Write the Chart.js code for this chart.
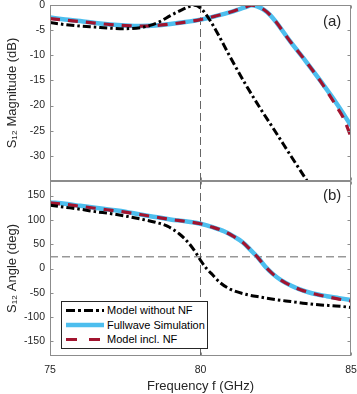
<!DOCTYPE html>
<html>
<head>
<meta charset="utf-8">
<script src="https://cdn.jsdelivr.net/npm/chart.js@4.4.1/dist/chart.umd.min.js"></script>
<style>
  html, body { margin: 0; padding: 0; background: #fff; }
  #wrap { position: relative; width: 357px; height: 394px; overflow: hidden; font-family: "Liberation Sans", Arial, sans-serif; }
  canvas { position: absolute; left: 0; }
  #c1 { top: 0; }
  #c2 { top: 176px; }
  .tag { position: absolute; font-size: 15px; color: #262626; }
  #legend { position: absolute; left: 61px; top: 301px; width: 145px; height: 46px; border: 1px solid #262626; background: #fff; }
  #legend svg { position: absolute; left: 0; top: 0; }
  #legend .lt { position: absolute; left: 45px; font-size: 11px; color: #000; line-height: 12px; white-space: nowrap; }
</style>
</head>
<body>
<div id="wrap">
  <canvas id="c1" width="357" height="182"></canvas>
  <canvas id="c2" width="357" height="218"></canvas>
  <div class="tag" style="left:323px; top:12px;">(a)</div>
  <div class="tag" style="left:323px; top:186px;">(b)</div>
  <div id="legend">
    <svg width="145" height="46">
      <line x1="4" y1="8.5" x2="42" y2="8.5" stroke="#000" stroke-width="3" stroke-dasharray="9 3 3 3"/>
      <line x1="4" y1="23" x2="42" y2="23" stroke="#4DBEEE" stroke-width="4.5"/>
      <line x1="4" y1="37.5" x2="42" y2="37.5" stroke="#A2142F" stroke-width="3.2" stroke-dasharray="11 12"/>
    </svg>
    <div class="lt" style="top:2px;">Model without NF</div>
    <div class="lt" style="top:17px;">Fullwave Simulation</div>
    <div class="lt" style="top:31px;">Model incl. NF</div>
  </div>
</div>
<script>
// ---------- data ----------
// Panel (a): S12 magnitude (dB)
const blackMagF = [75, 75.5, 76, 76.5, 77, 77.5, 78, 78.3, 78.65, 79, 79.3, 79.55, 79.8, 80, 80.2, 80.5, 81, 81.5, 82, 82.5, 83, 83.5, 83.7];
const blackMag  = [-3.5, -3.9, -4.2, -4.4, -4.6, -4.7, -4.5, -4.1, -3.3, -2.1, -1.2, -0.5, -0.05, -0.6, -2.0, -4.9, -10.5, -15.8, -20.7, -25.3, -30.0, -34.6, -36.5];

const blueMagF = [75, 75.5, 76, 76.5, 77, 77.5, 78, 78.5, 79, 79.5, 80, 80.5, 81, 81.3, 81.5, 81.7, 81.9, 82.1, 82.3, 82.5, 83, 83.5, 84, 84.5, 85];
const blueMag  = [-2.5, -2.9, -3.2, -3.6, -3.9, -4.1, -4.2, -4.1, -3.8, -3.4, -2.9, -2.2, -1.4, -0.8, -0.4, -0.05, -0.3, -0.9, -1.9, -3.3, -7.4, -11.2, -15.2, -19.4, -24.0];

const redMagF = [75, 75.5, 76, 76.5, 77, 77.5, 78, 78.5, 79, 79.5, 80, 80.5, 81, 81.3, 81.5, 81.7, 81.9, 82.1, 82.3, 82.5, 83, 83.5, 84, 84.5, 84.75, 85];
const redMag  = [-2.7, -3.0, -3.3, -3.6, -3.9, -4.1, -4.2, -4.1, -3.8, -3.4, -2.9, -2.2, -1.4, -0.8, -0.4, -0.05, -0.3, -0.9, -1.9, -3.3, -7.4, -11.2, -15.3, -20.0, -22.5, -26.2];

// Panel (b): S12 angle (deg)
const blackAngF = [75, 75.5, 76, 76.5, 77, 77.5, 78, 78.5, 78.9, 79.3, 79.6, 79.85, 80, 80.2, 80.4, 80.65, 81, 81.5, 82, 82.5, 83, 83.5, 84, 84.5, 85];
const blackAng  = [130, 126, 122, 117, 113, 108, 102, 95, 87, 71, 53, 32, 17, 0, -13, -29, -43, -53, -59, -64, -68, -72, -75, -77, -80];

const blueAngF = [75, 75.5, 76, 76.5, 77, 77.5, 78, 78.5, 79, 79.5, 80, 80.4, 80.8, 81.1, 81.4, 81.65, 81.9, 82.15, 82.4, 82.7, 83, 83.3, 83.7, 84.2, 84.6, 85];
const blueAng  = [136, 133, 129, 125, 121, 117, 111, 106, 101, 97, 92, 85, 76, 66, 54, 39, 23, 4, -11, -25, -35, -43, -51, -57, -61, -65];

const redAngF = [75, 75.5, 76, 76.5, 77, 77.5, 78, 78.5, 79, 79.5, 80, 80.4, 80.8, 81.1, 81.4, 81.65, 81.9, 82.15, 82.4, 82.7, 83, 83.3, 83.7, 84.2, 84.6, 85];
const redAng  = [135, 132, 128, 124, 120, 116, 111, 106, 101, 97, 92, 85, 76, 66, 54, 39, 23, 4, -11, -25, -35, -43, -51, -58, -63, -67];

// reference markers
const markerFreq = 80;      // GHz, vertical dashed line
const markerAngle = 24;     // deg, horizontal dashed line

// axes / ticks
const xRange = [75, 85];
const xTickVals = [75, 80, 85];
const magRange = [-35, 0];
const magTickVals = [0, -5, -10, -15, -20, -25, -30, -35];
const angRange = [-180, 180];
const angTickVals = [150, 100, 50, 0, -50, -100, -150];

const seriesNames = ['Model without NF', 'Fullwave Simulation', 'Model incl. NF'];

// ---------- helpers ----------
const FONT = '"Liberation Sans", Arial, sans-serif';
const TXT = '#262626';
const pts = (xs, ys) => xs.map((x, i) => ({x: x, y: ys[i]}));

const framePlugin = {
  id: 'frame',
  afterDatasetsDraw(chart, args, opts) {
    const {ctx, chartArea, scales} = chart;
    const l = Math.round(chartArea.left) + 0.5, r = Math.round(chartArea.right) - 0.5;
    const t = Math.round(chartArea.top) + 0.5, b = Math.round(chartArea.bottom) - 0.5;
    ctx.save();
    ctx.strokeStyle = '#8c8c8c';
    ctx.lineWidth = 1;
    ctx.setLineDash([]);
    ctx.strokeRect(l, t, r - l, b - t);
    ctx.beginPath();
    for (const v of opts.yTicks) {
      const y = Math.round(scales.y.getPixelForValue(v)) + 0.5;
      ctx.moveTo(l, y); ctx.lineTo(l + 3, y);
      ctx.moveTo(r, y); ctx.lineTo(r - 3, y);
    }
    for (const v of opts.xTicks) {
      const x = Math.round(scales.x.getPixelForValue(v)) + 0.5;
      ctx.moveTo(x, b); ctx.lineTo(x, b - 3);
      ctx.moveTo(x, t); ctx.lineTo(x, t + 3);
    }
    ctx.stroke();
    ctx.restore();
  }
};

const styleBlack = {borderColor: '#000', borderWidth: 3, borderDash: [8, 3, 2.5, 3], order: 1};
const styleBlue  = {borderColor: '#4DBEEE', borderWidth: 4.5, borderDash: [], order: 3};
const styleRed   = {borderColor: '#A2142F', borderWidth: 3.2, borderDash: [10, 8], order: 2};
const styleRef   = {borderColor: '#666', borderWidth: 1, borderDash: [8, 4], order: 10, cubicInterpolationMode: 'default', tension: 0};

const common = {
  responsive: false,
  animation: false,
  events: [],
  elements: { point: { radius: 0 }, line: { cubicInterpolationMode: 'monotone', fill: false, borderCapStyle: 'butt' } },
  plugins: { legend: { display: false }, tooltip: { enabled: false } }
};

// ---------- chart (a) ----------
new Chart(document.getElementById('c1'), {
  type: 'line',
  data: {
    datasets: [
      Object.assign({label: 'marker', data: [{x: markerFreq, y: magRange[1]}, {x: markerFreq, y: magRange[0]}]}, styleRef),
      Object.assign({label: seriesNames[0], data: pts(blackMagF, blackMag)}, styleBlack),
      Object.assign({label: seriesNames[1], data: pts(blueMagF, blueMag)}, styleBlue),
      Object.assign({label: seriesNames[2], data: pts(redMagF, redMag)}, styleRed)
    ]
  },
  options: Object.assign({}, common, {
    layout: { padding: { top: 5, right: 6, bottom: 1, left: 0 } },
    plugins: Object.assign({}, common.plugins, { frame: { yTicks: magTickVals, xTicks: xTickVals } }),
    scales: {
      x: { type: 'linear', min: xRange[0], max: xRange[1], display: false },
      y: {
        type: 'linear', min: magRange[0], max: magRange[1],
        afterFit: s => { s.width = 50; s.paddingTop = 0; s.paddingBottom = 0; },
        afterBuildTicks: s => { s.ticks = magTickVals.map(v => ({value: v})); },
        grid: { display: false, drawTicks: false },
        border: { display: false },
        ticks: { padding: 5, color: TXT, font: { family: FONT, size: 10.5 },
                 callback: v => (v === magRange[0] ? '' : String(v)) },
        title: { display: true, text: 'S\u2081\u2082 Magnitude (dB)', color: TXT,
                 font: { family: FONT, size: 13 }, padding: { top: 5, bottom: 0 } }
      }
    }
  }),
  plugins: [framePlugin]
});

// ---------- chart (b) ----------
new Chart(document.getElementById('c2'), {
  type: 'line',
  data: {
    datasets: [
      Object.assign({label: 'marker', data: [{x: markerFreq, y: angRange[1]}, {x: markerFreq, y: angRange[0]}]}, styleRef),
      Object.assign({label: 'marker2', data: [{x: xRange[0], y: markerAngle}, {x: xRange[1], y: markerAngle}]}, styleRef),
      Object.assign({label: seriesNames[0], data: pts(blackAngF, blackAng)}, styleBlack),
      Object.assign({label: seriesNames[1], data: pts(blueAngF, blueAng)}, styleBlue),
      Object.assign({label: seriesNames[2], data: pts(redAngF, redAng)}, styleRed)
    ]
  },
  options: Object.assign({}, common, {
    layout: { padding: { top: 5, right: 6, bottom: 0, left: 0 } },
    plugins: Object.assign({}, common.plugins, { frame: { yTicks: angTickVals, xTicks: xTickVals } }),
    scales: {
      x: {
        type: 'linear', min: xRange[0], max: xRange[1],
        afterFit: s => { s.height = 38; s.paddingLeft = 0; s.paddingRight = 0; },
        afterBuildTicks: s => { s.ticks = xTickVals.map(v => ({value: v})); },
        grid: { display: false, drawTicks: false },
        border: { display: false },
        ticks: { padding: 8, color: TXT, maxRotation: 0, font: { family: FONT, size: 10.5 } },
        title: { display: true, text: 'Frequency f (GHz)', color: TXT,
                 font: { family: FONT, size: 13 }, padding: { top: 0, bottom: 0 } }
      },
      y: {
        type: 'linear', min: angRange[0], max: angRange[1],
        afterFit: s => { s.width = 50; s.paddingTop = 0; s.paddingBottom = 0; },
        afterBuildTicks: s => { s.ticks = angTickVals.map(v => ({value: v})); },
        grid: { display: false, drawTicks: false },
        border: { display: false },
        ticks: { padding: 5, color: TXT, font: { family: FONT, size: 10.5 } },
        title: { display: true, text: 'S\u2081\u2082 Angle (deg)', color: TXT,
                 font: { family: FONT, size: 13 }, padding: { top: 5, bottom: 0 } }
      }
    }
  }),
  plugins: [framePlugin]
});
</script>
</body>
</html>
